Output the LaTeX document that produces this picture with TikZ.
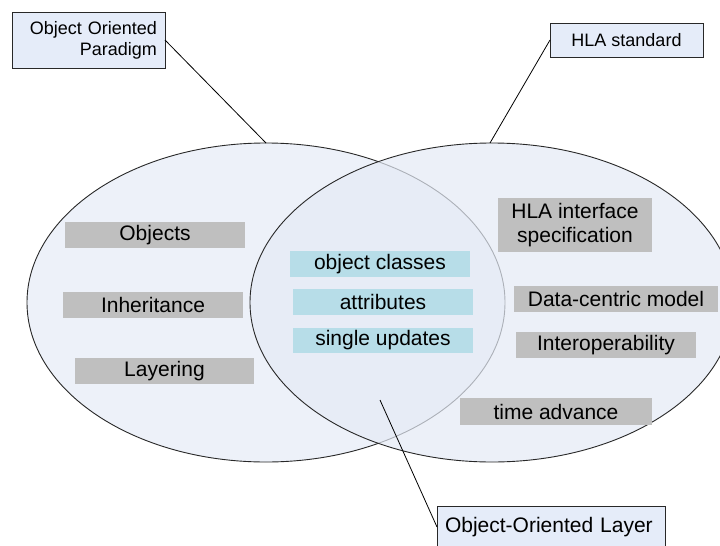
\documentclass[tikz,border=0pt]{standalone}
\usepackage{fontspec}
\setmainfont{Liberation Sans}
\usetikzlibrary{shapes.geometric}
\definecolor{leftfill}{RGB}{237,241,249}
\definecolor{rightfill}{RGB}{229,235,246}
\definecolor{graybox}{RGB}{191,191,191}
\definecolor{cyanbox}{RGB}{183,221,232}
\definecolor{labelfill}{RGB}{229,236,249}
\definecolor{edgecol}{RGB}{40,40,40}
\tikzset{
  bigtext/.style={font=\fontsize{21}{24}\selectfont},
  smalltext/.style={font=\fontsize{18}{21}\selectfont},
  setellipse/.style={ellipse, inner sep=0pt, outer sep=0pt, line width=0.9pt, draw=edgecol},
  gbox/.style={rectangle, fill=graybox, inner sep=0pt, outer sep=0pt, bigtext, text=black},
  cbox/.style={rectangle, fill=cyanbox, inner sep=0pt, outer sep=0pt, bigtext, text=black},
  labelbox/.style={rectangle, draw=edgecol, fill=labelfill, line width=0.8pt, outer sep=0pt, text=black},
  connector/.style={draw=black, line width=0.8pt}
}
\begin{document}
\begin{tikzpicture}[x=1pt,y=-1pt]
\useasboundingbox (0,0) rectangle (720,546);
\fill[white] (0,0) rectangle (720,546);
% sets
\node[setellipse, fill=leftfill, minimum width=478pt, minimum height=319pt] (leftset) at (266,302.5) {};
\node[setellipse, fill=rightfill, fill opacity=0.7, draw opacity=1, minimum width=484pt, minimum height=319pt] (rightset) at (492,302.5) {};
% left items
\node[gbox, minimum width=180pt, minimum height=26pt] (objects) at (155,235) {Objects};
\node[gbox, minimum width=180pt, minimum height=26pt] (inherit) at (153,305) {Inheritance};
\node[gbox, minimum width=179pt, minimum height=26pt] (layering) at (164.5,371) {Layering};
% shared items
\node[cbox, minimum width=180pt, minimum height=26pt] (classes) at (380,264) {object classes};
\node[cbox, minimum width=180pt, minimum height=26pt] (attrs) at (383,302) {attributes};
\node[cbox, minimum width=180pt, minimum height=25pt] (updates) at (383,340.5) {single updates};
% right items
\node[gbox, minimum width=154pt, minimum height=54pt, align=center] (hlaspec) at (575,225) {HLA interface\\specification};
\node[gbox, minimum width=204pt, minimum height=26pt] (datacentric) at (616,299) {Data-centric model};
\node[gbox, minimum width=180pt, minimum height=26pt] (interop) at (606,345) {Interoperability};
\node[gbox, minimum width=192pt, minimum height=27pt] (timeadv) at (556,411.5) {time advance};
% labels
\node[labelbox, smalltext, text width=137pt, align=right, inner xsep=8pt, inner ysep=0pt, minimum height=56pt] (oop) at (88.5,40) {Object Oriented\\Paradigm};
\node[labelbox, smalltext, minimum width=153pt, minimum height=34pt, inner sep=0pt] (hla) at (626.5,40) {HLA standard};
\node[labelbox, bigtext, text width=212pt, align=left, inner xsep=8pt, inner ysep=0pt, minimum height=42pt] (layer) at (551,527) {Object-Oriented Layer};
% connectors
\coordinate (overlapspot) at (380,400);
\draw[connector] (oop.east) -- (leftset.north);
\draw[connector] (hla.west) -- ([xshift=-2pt]rightset.north);
\draw[connector] (layer.west) -- (overlapspot);
\end{tikzpicture}
\end{document}
